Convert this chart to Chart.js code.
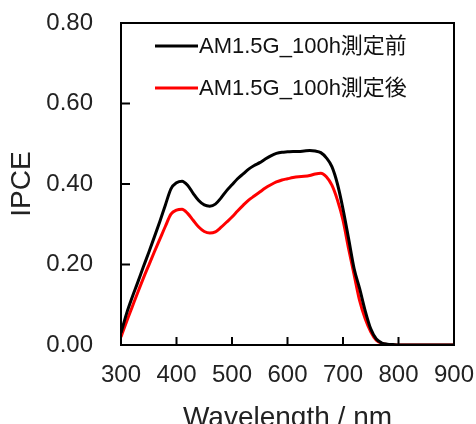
<!DOCTYPE html>
<html>
<head>
<meta charset="utf-8">
<script src="https://cdn.jsdelivr.net/npm/chart.js@4"></script>
<style>
  html, body { margin: 0; padding: 0; overflow: hidden; background: #fff; }
  #wrap { width: 476px; height: 440px; }
</style>
</head>
<body>
<div id="wrap"><canvas id="ipce"></canvas></div>
<script>
// wavelength (nm)
const wavelengths = [
    300, 310, 320, 330, 340, 350, 360, 370, 380, 390,
    400, 410, 420, 430, 440, 450, 460, 470, 480, 490,
    500, 510, 520, 530, 540, 550, 560, 570, 580, 590,
    600, 610, 620, 630, 640, 650, 660, 670, 680, 690,
    700, 710, 720, 730, 740, 750, 760, 770, 780, 790,
    800, 810, 820, 830, 840, 850, 860, 870, 880, 890, 900
];
// IPCE before the 100h test
const ipceBefore = [
    0.030, 0.078, 0.118, 0.155, 0.193, 0.230, 0.268, 0.307, 0.348, 0.388,
    0.403, 0.407, 0.397, 0.377, 0.359, 0.348, 0.345, 0.350, 0.365, 0.383,
    0.398, 0.413, 0.425, 0.437, 0.446, 0.453, 0.462, 0.470, 0.476, 0.479,
    0.480, 0.481, 0.481, 0.482, 0.483, 0.482, 0.478, 0.465, 0.443, 0.400,
    0.338, 0.265, 0.190, 0.140, 0.085, 0.040, 0.015, 0.005, 0.002, 0.001,
    0, 0, 0, 0, 0, 0, 0, 0, 0, 0, 0
];
// IPCE after the 100h test
const ipceAfter = [
    0.020, 0.058, 0.094, 0.130, 0.165, 0.198, 0.231, 0.263, 0.295, 0.325,
    0.335, 0.337, 0.327, 0.310, 0.293, 0.282, 0.278, 0.281, 0.292, 0.305,
    0.318, 0.333, 0.347, 0.360, 0.370, 0.380, 0.390, 0.398, 0.405, 0.410,
    0.413, 0.416, 0.418, 0.419, 0.421, 0.425, 0.427, 0.418, 0.397, 0.360,
    0.310, 0.240, 0.175, 0.110, 0.065, 0.033, 0.012, 0.004, 0.001, 0,
    0, 0, 0, 0, 0, 0, 0, 0, 0, 0, 0
];
const seriesLabels = ['AM1.5G_100h測定前', 'AM1.5G_100h測定後'];
const seriesColors = ['#000000', '#ff0000'];

const FONT = '"Liberation Sans", Arial, "Noto Sans CJK JP", sans-serif';

// frame, inward ticks and the in-plot legend
const framePlugin = {
    id: 'frame',
    afterDatasetsDraw(chart) {
        const { ctx, chartArea: a, scales } = chart;
        ctx.save();
        ctx.strokeStyle = '#000';
        ctx.lineWidth = 2;
        ctx.strokeRect(a.left, a.top, a.right - a.left, a.bottom - a.top);

        ctx.beginPath();
        scales.x.ticks.forEach(t => {
            if (t.value <= 300 || t.value >= 900) return;
            const px = scales.x.getPixelForValue(t.value);
            ctx.moveTo(px, a.bottom);
            ctx.lineTo(px, a.bottom - 8);
        });
        scales.y.ticks.forEach(t => {
            if (t.value <= 0 || t.value >= 0.8) return;
            const py = scales.y.getPixelForValue(t.value);
            ctx.moveTo(a.left, py);
            ctx.lineTo(a.left + 9, py);
        });
        ctx.stroke();

        // legend
        ctx.font = '22px ' + FONT;
        ctx.textBaseline = 'middle';
        ctx.fillStyle = '#111';
        chart.data.datasets.forEach((ds, i) => {
            const y = a.top + 23 + i * 42;
            ctx.strokeStyle = ds.borderColor;
            ctx.lineWidth = 3;
            ctx.beginPath();
            ctx.moveTo(a.left + 34, y);
            ctx.lineTo(a.left + 77, y);
            ctx.stroke();
            ctx.fillText(ds.label, a.left + 78, y + 1);
        });
        ctx.restore();
    }
};

new Chart(document.getElementById('ipce'), {
    type: 'line',
    data: {
        datasets: [0, 1].map(i => ({
            label: seriesLabels[i],
            data: wavelengths.map((w, j) => ({ x: w, y: (i === 0 ? ipceBefore : ipceAfter)[j] })),
            borderColor: seriesColors[i],
            borderWidth: 3,
            pointRadius: 0,
            cubicInterpolationMode: 'monotone',
        }))
    },
    options: {
        responsive: true,
        maintainAspectRatio: false,
        animation: false,
        layout: { padding: { top: 23, right: 22, left: 0, bottom: 0 } },
        plugins: { legend: { display: false }, tooltip: { enabled: false } },
        scales: {
            x: {
                type: 'linear',
                min: 300,
                max: 900,
                afterFit: s => { s.height = 95; s.paddingLeft = 0; s.paddingRight = 0; },
                grid: { drawOnChartArea: false, drawTicks: false },
                border: { display: true, color: '#000', width: 2 },
                ticks: { stepSize: 100, color: '#222', padding: 16, font: { family: FONT, size: 24 } },
                title: { display: true, text: 'Wavelength / nm', color: '#222', padding: { top: 0, bottom: 5 }, font: { family: FONT, size: 28 } }
            },
            y: {
                min: 0,
                max: 0.8,
                afterFit: s => { s.width = 121; s.paddingTop = 0; s.paddingBottom = 0; },
                grid: { drawOnChartArea: false, drawTicks: false },
                border: { display: true, color: '#000', width: 2 },
                ticks: { stepSize: 0.2, color: '#222', padding: 28, font: { family: FONT, size: 24 }, callback: v => v.toFixed(2) },
                title: { display: true, text: 'IPCE', color: '#222', padding: { top: 5, bottom: 0 }, font: { family: FONT, size: 28 } }
            }
        }
    },
    plugins: [framePlugin]
});
</script>
</body>
</html>
